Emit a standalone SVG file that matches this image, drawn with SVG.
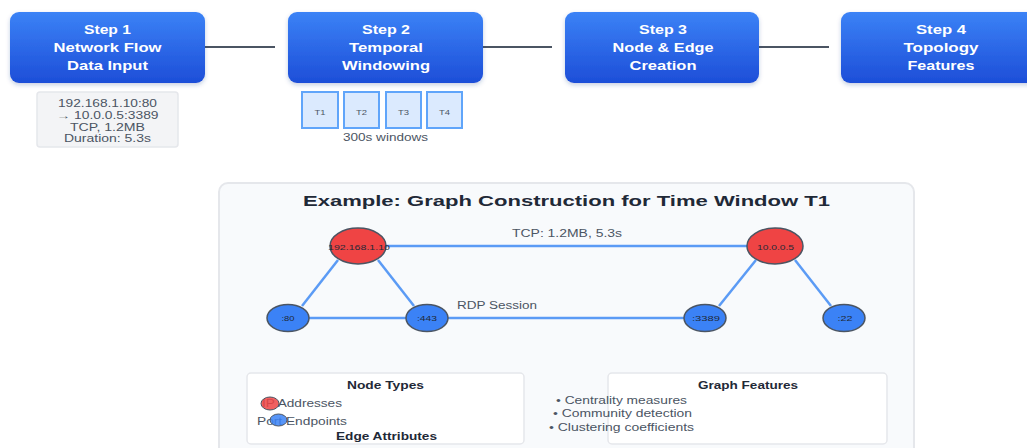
<svg xmlns="http://www.w3.org/2000/svg" width="1027" height="448" viewBox="0 0 1027 448">
  <defs>
    <linearGradient id="stepFill" x1="0" y1="0" x2="0" y2="1">
      <stop offset="0" stop-color="#3b82f6"/>
      <stop offset="1" stop-color="#1d4ed8"/>
    </linearGradient>
    <filter id="soft" x="-10%" y="-10%" width="120%" height="130%">
      <feDropShadow dx="0" dy="2" stdDeviation="2" flood-color="#1e3a8a" flood-opacity="0.25"/>
    </filter>
    <style>
      text { font-family: "Liberation Sans", Arial, sans-serif; }
      .step { fill: url(#stepFill); filter: url(#soft); }
      .stepText { fill: #ffffff; font-size: 12px; font-weight: bold; text-anchor: middle; }
      .flowLink { stroke: #4b5563; stroke-width: 2; }
      .dataBox { fill: #f3f4f6; stroke: #e5e7eb; stroke-width: 1.5; }
      .dataText { fill: #4b5563; font-size: 10px; text-anchor: middle; }
      .win { fill: #dbeafe; stroke: #60a5fa; stroke-width: 2; }
      .winText { fill: #4b5563; font-size: 8px; text-anchor: middle; }
      .panel { fill: #f8fafc; stroke: #e5e7eb; stroke-width: 2; }
      .title { fill: #1f2937; font-size: 15px; font-weight: bold; text-anchor: middle; }
      .edge { stroke: #5b9bf5; stroke-width: 2.5; fill: none; }
      .edgeText { fill: #4b5563; font-size: 10px; }
      .ip { fill: #ef4444; stroke: #4b5563; stroke-width: 1.5; }
      .port { fill: #3b82f6; stroke: #4b5563; stroke-width: 1.5; }
      .nodeText { fill: #1f2937; font-size: 8px; text-anchor: middle; }
      .legend { fill: #ffffff; stroke: #e5e7eb; stroke-width: 1.5; }
      .legendHead { fill: #1f2937; font-size: 10px; font-weight: bold; text-anchor: middle; }
      .legendText { fill: #4b5563; font-size: 10px; }
      .swatch { fill-opacity: 0.85; stroke-width: 1; }
    </style>
  </defs>

  <rect width="1027" height="448" fill="#ffffff"/>

  <!-- pipeline connectors -->
  <g id="pipeline-links">
    <line class="flowLink" x1="205" y1="47" x2="275" y2="47"/>
    <line class="flowLink" x1="483" y1="47" x2="552" y2="47"/>
    <line class="flowLink" x1="759" y1="47" x2="829" y2="47"/>
  </g>

  <!-- pipeline steps -->
  <g id="step1">
    <rect class="step" x="10" y="12" width="195" height="71" rx="9"/>
    <text class="stepText" x="107.5" y="34" textLength="47" lengthAdjust="spacingAndGlyphs">Step 1</text>
    <text class="stepText" x="107.5" y="52" textLength="108" lengthAdjust="spacingAndGlyphs">Network Flow</text>
    <text class="stepText" x="107.5" y="70" textLength="81" lengthAdjust="spacingAndGlyphs">Data Input</text>
  </g>
  <g id="step2">
    <rect class="step" x="288" y="12" width="195" height="71" rx="9"/>
    <text class="stepText" x="386" y="34" textLength="48" lengthAdjust="spacingAndGlyphs">Step 2</text>
    <text class="stepText" x="386" y="52" textLength="74" lengthAdjust="spacingAndGlyphs">Temporal</text>
    <text class="stepText" x="386" y="70" textLength="88" lengthAdjust="spacingAndGlyphs">Windowing</text>
  </g>
  <g id="step3">
    <rect class="step" x="565" y="12" width="194" height="71" rx="9"/>
    <text class="stepText" x="663" y="34" textLength="48" lengthAdjust="spacingAndGlyphs">Step 3</text>
    <text class="stepText" x="663" y="52" textLength="101" lengthAdjust="spacingAndGlyphs">Node &amp; Edge</text>
    <text class="stepText" x="663" y="70" textLength="67" lengthAdjust="spacingAndGlyphs">Creation</text>
  </g>
  <g id="step4">
    <rect class="step" x="841" y="12" width="198" height="71" rx="9"/>
    <text class="stepText" x="941" y="34" textLength="50" lengthAdjust="spacingAndGlyphs">Step 4</text>
    <text class="stepText" x="941" y="52" textLength="75" lengthAdjust="spacingAndGlyphs">Topology</text>
    <text class="stepText" x="941" y="70" textLength="67" lengthAdjust="spacingAndGlyphs">Features</text>
  </g>

  <!-- sample flow record -->
  <g id="flow-record">
    <rect class="dataBox" x="37" y="92" width="141" height="55" rx="3"/>
    <text class="dataText" x="107.5" y="107" textLength="99" lengthAdjust="spacingAndGlyphs">192.168.1.10:80</text>
    <text class="dataText" x="107.5" y="119" textLength="102" lengthAdjust="spacingAndGlyphs">→ 10.0.0.5:3389</text>
    <text class="dataText" x="107.5" y="131" textLength="75" lengthAdjust="spacingAndGlyphs">TCP, 1.2MB</text>
    <text class="dataText" x="107.5" y="142" textLength="87" lengthAdjust="spacingAndGlyphs">Duration: 5.3s</text>
  </g>

  <!-- time windows -->
  <g id="time-windows">
    <rect class="win" x="302" y="92" width="36" height="36"/>
    <rect class="win" x="344" y="92" width="35" height="36"/>
    <rect class="win" x="386" y="92" width="35" height="36"/>
    <rect class="win" x="427" y="92" width="35" height="36"/>
    <text class="winText" x="320" y="115" textLength="11" lengthAdjust="spacingAndGlyphs">T1</text>
    <text class="winText" x="361.5" y="115" textLength="11" lengthAdjust="spacingAndGlyphs">T2</text>
    <text class="winText" x="403.5" y="115" textLength="11" lengthAdjust="spacingAndGlyphs">T3</text>
    <text class="winText" x="444.5" y="115" textLength="11" lengthAdjust="spacingAndGlyphs">T4</text>
    <text class="dataText" x="385.5" y="141" font-size="9" textLength="85" lengthAdjust="spacingAndGlyphs">300s windows</text>
  </g>

  <!-- example graph panel -->
  <g id="example-panel">
    <rect class="panel" x="219" y="183" width="695" height="280" rx="9"/>
    <text class="title" x="566.5" y="206" textLength="527" lengthAdjust="spacingAndGlyphs">Example: Graph Construction for Time Window T1</text>
  </g>

  <g id="graph-edges">
    <line class="edge" x1="386" y1="246" x2="748" y2="246"/>
    <line class="edge" x1="338" y1="260" x2="302" y2="306"/>
    <line class="edge" x1="378" y1="260" x2="414" y2="306"/>
    <line class="edge" x1="309" y1="318" x2="406" y2="318"/>
    <line class="edge" x1="448" y1="318" x2="684" y2="318"/>
    <line class="edge" x1="756" y1="260" x2="719" y2="306"/>
    <line class="edge" x1="795" y1="260" x2="831" y2="306"/>
    <text class="edgeText" x="567" y="237" text-anchor="middle" textLength="110" lengthAdjust="spacingAndGlyphs">TCP: 1.2MB, 5.3s</text>
    <text class="edgeText" x="457" y="309" textLength="80" lengthAdjust="spacingAndGlyphs">RDP Session</text>
  </g>

  <g id="node-ip-192-168-1-10">
    <ellipse class="ip" cx="358" cy="246" rx="28" ry="18"/>
    <text class="nodeText" x="359" y="250" textLength="62" lengthAdjust="spacingAndGlyphs">192.168.1.10</text>
  </g>
  <g id="node-ip-10-0-0-5">
    <ellipse class="ip" cx="775" cy="246" rx="28" ry="18"/>
    <text class="nodeText" x="775.5" y="250" textLength="37" lengthAdjust="spacingAndGlyphs">10.0.0.5</text>
  </g>
  <g id="node-port-80">
    <ellipse class="port" cx="288" cy="318" rx="21" ry="13.5"/>
    <text class="nodeText" x="288" y="321" textLength="13" lengthAdjust="spacingAndGlyphs">:80</text>
  </g>
  <g id="node-port-443">
    <ellipse class="port" cx="427" cy="318" rx="21" ry="13.5"/>
    <text class="nodeText" x="427" y="321" textLength="20" lengthAdjust="spacingAndGlyphs">:443</text>
  </g>
  <g id="node-port-3389">
    <ellipse class="port" cx="705" cy="318" rx="21" ry="13.5"/>
    <text class="nodeText" x="706" y="321" textLength="28" lengthAdjust="spacingAndGlyphs">:3389</text>
  </g>
  <g id="node-port-22">
    <ellipse class="port" cx="844" cy="318" rx="21" ry="13.5"/>
    <text class="nodeText" x="845" y="321" textLength="15" lengthAdjust="spacingAndGlyphs">:22</text>
  </g>

  <!-- legend: node types (swatches sit over their labels) -->
  <g id="legend-node-types">
    <rect class="legend" x="247" y="373" width="277" height="71" rx="4"/>
    <text class="legendHead" x="385.5" y="389" textLength="77" lengthAdjust="spacingAndGlyphs">Node Types</text>
    <text class="legendText" x="262" y="407" textLength="80" lengthAdjust="spacingAndGlyphs">IP Addresses</text>
    <ellipse class="ip swatch" cx="270" cy="403.5" rx="9" ry="6.5"/>
    <text class="legendText" x="257" y="425" textLength="90" lengthAdjust="spacingAndGlyphs">Port Endpoints</text>
    <ellipse class="port swatch" cx="278.5" cy="420" rx="8.5" ry="6"/>
    <text class="legendHead" x="386.5" y="440" textLength="101" lengthAdjust="spacingAndGlyphs">Edge Attributes</text>
  </g>

  <!-- legend: graph features -->
  <g id="legend-graph-features">
    <rect class="legend" x="608" y="373" width="279" height="71" rx="4"/>
    <text class="legendHead" x="748" y="389" textLength="100" lengthAdjust="spacingAndGlyphs">Graph Features</text>
    <text class="legendText" x="621.5" y="404" text-anchor="middle" textLength="131" lengthAdjust="spacingAndGlyphs">• Centrality measures</text>
    <text class="legendText" x="622.5" y="417" text-anchor="middle" textLength="139" lengthAdjust="spacingAndGlyphs">• Community detection</text>
    <text class="legendText" x="621.5" y="431" text-anchor="middle" textLength="145" lengthAdjust="spacingAndGlyphs">• Clustering coefficients</text>
  </g>
</svg>
